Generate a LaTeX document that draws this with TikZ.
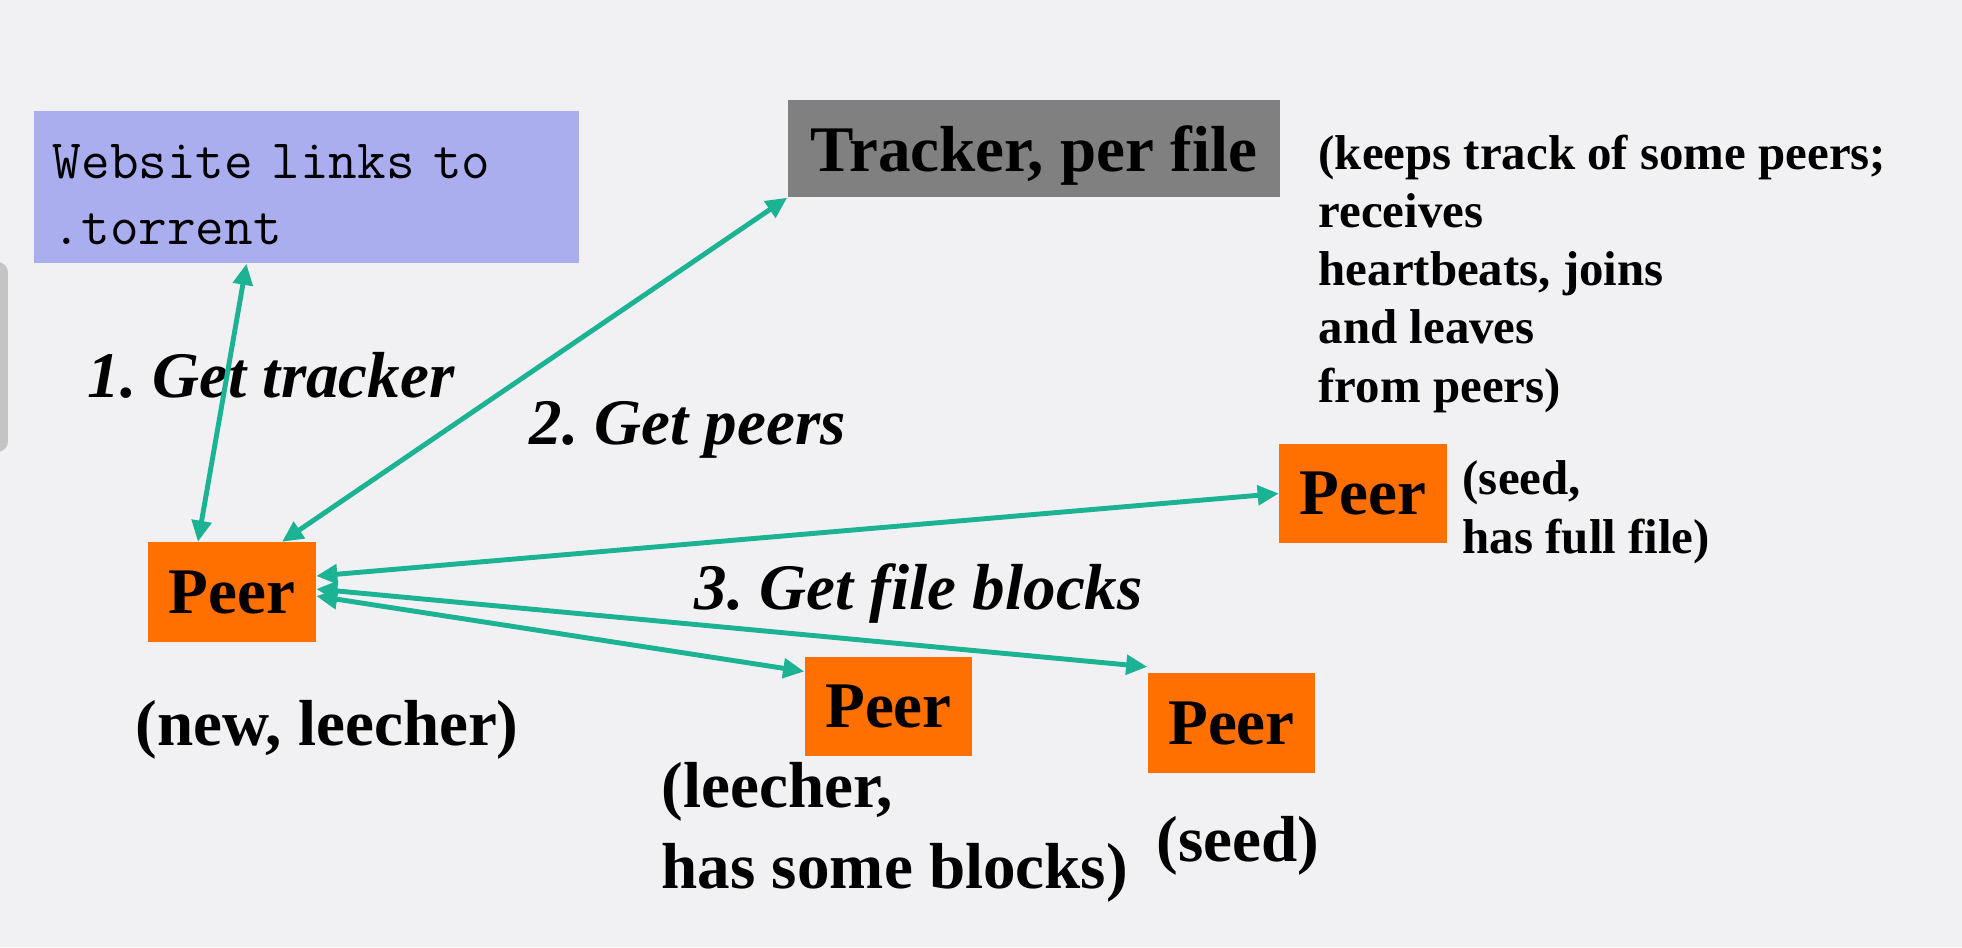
\documentclass[tikz,border=0pt]{standalone}
\usepackage{fontspec}
\setmainfont{Liberation Serif}
\frenchspacing
\usetikzlibrary{arrows.meta}
\definecolor{bg}{RGB}{241,241,243}
\definecolor{lav}{RGB}{170,174,238}
\definecolor{trk}{RGB}{128,128,128}
\definecolor{org}{RGB}{255,112,0}
\definecolor{tl}{RGB}{28,178,148}

\begin{document}
\begin{tikzpicture}[x=0.01cm,y=-0.01cm,
  peer/.style={fill=org,inner sep=0pt,minimum width=1.67cm,minimum height=0.99cm,font=\fontsize{18.5}{22}\selectfont\bfseries},
  lab/.style={inner sep=0pt,anchor=base west,font=\fontsize{18.5}{22}\selectfont\bfseries\itshape},
  note/.style={inner sep=0pt,anchor=base west,align=left,font=\fontsize{13.9}{16.5}\selectfont\bfseries},
  bignote/.style={note,font=\fontsize{18.5}{22.8}\selectfont\bfseries},
  link/.style={draw=tl,line width=1.4pt,{Triangle[length=6pt,width=5.5pt]}-{Triangle[length=6pt,width=5.5pt]}}]
\useasboundingbox[fill=bg] (0,0) rectangle (1962,947);
\fill[gray!70,opacity=0.6,rounded corners=3pt] (-10,262) rectangle (8,452);

\node[fill=lav,inner sep=0pt,minimum width=5.45cm,minimum height=1.52cm,text width=5.07cm,text height=14pt,align=left,font=\fontsize{15.8}{18.8}\selectfont\ttfamily] (web) at (306.5,187) {Website links to\\.torrent};
\node[fill=trk,inner sep=0pt,minimum width=4.92cm,minimum height=0.97cm,text depth=0pt,font=\fontsize{18.5}{22}\selectfont\bfseries] (trk) at (1034,148.5) {Tracker, per file};
% last baselines of the multi-line notes
\node[note] (trknote) at (1318,402) {(keeps track of some peers;\\receives\\heartbeats, joins\\and leaves\\from peers)};

\node[peer] (new) at (232,592) {Peer};
\node[peer] (seedA) at (1363,493.5) {Peer};
\node[peer] (leech) at (888.5,706.5) {Peer};
\node[peer] (seedB) at (1231.5,723) {Peer};

\node[bignote] (newnote) at (135,745) {(new, leecher)};
\node[note] (seedAnote) at (1462,553) {(seed,\\has full file)};
\node[bignote] (leechnote) at (661,888) {(leecher,\\has some blocks)};
\node[bignote] (seedBnote) at (1156,861) {(seed)};

\node[lab] (l1) at (87,397) {1. Get tracker};
\node[lab] (l2) at (529,444) {2. Get peers};
\node[lab] (l3) at (694,609) {3. Get file blocks};

\draw[link] ([xshift=-0.6cm]web.south) -- ([xshift=-0.34cm]new.north);
\draw[link] (trk.south west) -- ([xshift=0.5cm]new.north);
\draw[link] ([yshift=0.16cm]new.east) -- (seedA.west);
\draw[link] ([yshift=-0.04cm]new.east) -- ([yshift=0.35cm]leech.west);
\draw[link] ([yshift=0.03cm]new.east) -- ([yshift=0.06cm]seedB.north west);
\end{tikzpicture}
\end{document}
